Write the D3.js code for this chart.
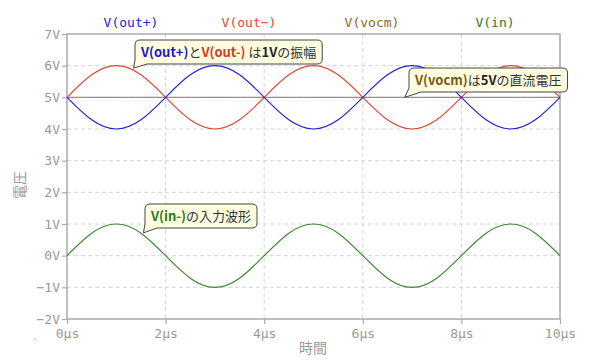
<!DOCTYPE html>
<html><head><meta charset="utf-8">
<script src="https://cdn.jsdelivr.net/npm/d3@7"></script>
<style>body{margin:0;background:#fff}svg{display:block}</style>
</head><body><svg id="c" width="600" height="361"></svg>
<script>
// time in µs (0.5 µs steps)
const timeUs = [0,0.5,1,1.5,2,2.5,3,3.5,4,4.5,5,5.5,6,6.5,7,7.5,8,8.5,9,9.5,10];
const vIn    = [0,0.71,1,0.71,0,-0.71,-1,-0.71,0,0.71,1,0.71,0,-0.71,-1,-0.71,0,0.71,1,0.71,0];
const vOutP  = [5,4.29,4,4.29,5,5.71,6,5.71,5,4.29,4,4.29,5,5.71,6,5.71,5,4.29,4,4.29,5];
const vOutM  = [5,5.71,6,5.71,5,4.29,4,4.29,5,5.71,6,5.71,5,4.29,4,4.29,5,5.71,6,5.71,5];
const vVocm  = [5,5,5,5,5,5,5,5,5,5,5,5,5,5,5,5,5,5,5,5,5];
const seriesNames = ["V(out+)","V(out\u2212)","V(vocm)","V(in)"];
const xTicks = [0,2,4,6,8,10];
const xTickLabels = ["0µs","2µs","4µs","6µs","8µs","10µs"];
const yTicks = [-2,-1,0,1,2,3,4,5,6,7];
const yTickLabels = ["\u22122V","\u22121V","0V","1V","2V","3V","4V","5V","6V","7V"];

const colors = {out_p:"#2323d8", out_m:"#dc4a35", vocm:"#b09050", vin:"#3a8a2e"};
const legendColors = ["#2323d8","#dc4a35","#8a6a1a","#2a7a22"];

const svg = d3.select("#c");
const L=67,R=560,T=34,B=319;
const x = d3.scaleLinear().domain([0,10]).range([L,R]);
const y = d3.scaleLinear().domain([-2,7]).range([B,T]);
const mono = "'DejaVu Sans Mono', monospace";
const jp = "'Noto Sans CJK JP', sans-serif";
const axisGray = "#aaaaaa", textGray="#999999";

// grid
const g = svg.append("g");
g.selectAll(".gx").data(xTicks.slice(1,-1)).join("line")
 .attr("x1",d=>x(d)).attr("x2",d=>x(d)).attr("y1",T).attr("y2",B)
 .attr("stroke","#d4d4d4").attr("stroke-dasharray","4,3");
g.selectAll(".gy").data(yTicks.slice(1,-1)).join("line")
 .attr("x1",L).attr("x2",R).attr("y1",d=>y(d)).attr("y2",d=>y(d))
 .attr("stroke","#d4d4d4").attr("stroke-dasharray","4,3");

// frame
svg.append("rect").attr("x",L).attr("y",T).attr("width",R-L).attr("height",B-T)
 .attr("fill","none").attr("stroke",axisGray).attr("stroke-width",1.5);

// axes
const xAxis = d3.axisBottom(x).tickValues(xTicks).tickFormat((d,i)=>xTickLabels[i]).tickSize(5).tickPadding(5);
const ax = svg.append("g").attr("transform",`translate(0,${B})`).call(xAxis);
const yAxis = d3.axisLeft(y).tickValues(yTicks).tickFormat((d,i)=>yTickLabels[i]).tickSize(5).tickPadding(2);
const ay = svg.append("g").attr("transform",`translate(${L},0)`).call(yAxis);
[ax,ay].forEach(a=>{
  a.select(".domain").remove();
  a.selectAll(".tick line").attr("stroke",axisGray).attr("stroke-width",1.2);
  a.selectAll(".tick text").attr("fill",textGray).attr("font-family",mono).attr("font-size",13);
});

// lines
const line = arr => d3.line().x((d,i)=>x(timeUs[i])).y(d=>y(d)).curve(d3.curveNatural)(arr);
[[vVocm,colors.vocm],[vIn,colors.vin],[vOutM,colors.out_m],[vOutP,colors.out_p]].forEach(([a,c])=>{
  svg.append("path").attr("d",line(a)).attr("fill","none").attr("stroke",c).attr("stroke-width",1.2);
});

// legend
const legX = [131,249,372,495];
svg.selectAll(".leg").data(seriesNames).join("text")
 .attr("x",(d,i)=>legX[i]).attr("y",27).attr("text-anchor","middle")
 .attr("font-family",mono).attr("font-size",13).attr("fill",(d,i)=>legendColors[i]).text(d=>d);

// axis titles
svg.append("text").attr("transform","translate(25,185) rotate(-90)").attr("text-anchor","middle")
 .attr("font-family",jp).attr("font-size",14).attr("fill",textGray).text("電圧");
svg.append("text").attr("x",313).attr("y",353).attr("text-anchor","middle")
 .attr("font-family",jp).attr("font-size",14).attr("fill",textGray).text("時間");
svg.append("text").attr("x",33).attr("y",340).attr("font-family",jp).attr("font-size",10).attr("fill","#bbb").text("、");

// callouts
function callout(tipT, tipV, bx, by, parts){
  const grp = svg.append("g");
  const path = grp.append("path");
  const t = grp.append("text").attr("x",bx+6).attr("y",by+17).attr("font-family",jp).attr("font-size",13);
  parts.forEach(p=>{
    t.append("tspan").text(p[0]).attr("fill",p[1]).attr("font-weight",p[2]?"bold":"normal");
  });
  const w = t.node().getComputedTextLength()+12, h=24, r=5;
  const x0=bx,y0=by,x1=bx+w,y1=by+h;
  const tx=x(tipT), ty=y(tipV);
  path.attr("d",`M${x0+r},${y0} L${x1-r},${y0} Q${x1},${y0} ${x1},${y0+r} L${x1},${y1-r} Q${x1},${y1} ${x1-r},${y1} L${x0+12},${y1} L${tx},${ty} L${x0},${y1-4} L${x0},${y0+r} Q${x0},${y0} ${x0+r},${y0} Z`)
   .attr("fill","#fffde0").attr("stroke","#444").attr("stroke-width",1);
}
callout(1.35, 5.92, 135, 40, [["V(out+)","#1a1ad0",true],["と","#333",false],["V(out-)","#d83a22",true],[" は","#333",false],["1V","#222",true],["の振幅","#333",false]]);
callout(6.85, 5.0, 409, 68, [["V(vocm)","#7a5a10",true],["は","#333",false],["5V","#222",true],["の直流電圧","#333",false]]);
callout(1.55, 0.72, 145, 204, [["V(in-)","#2a7a22",true],["の入力波形","#333",false]]);
</script></body></html>
